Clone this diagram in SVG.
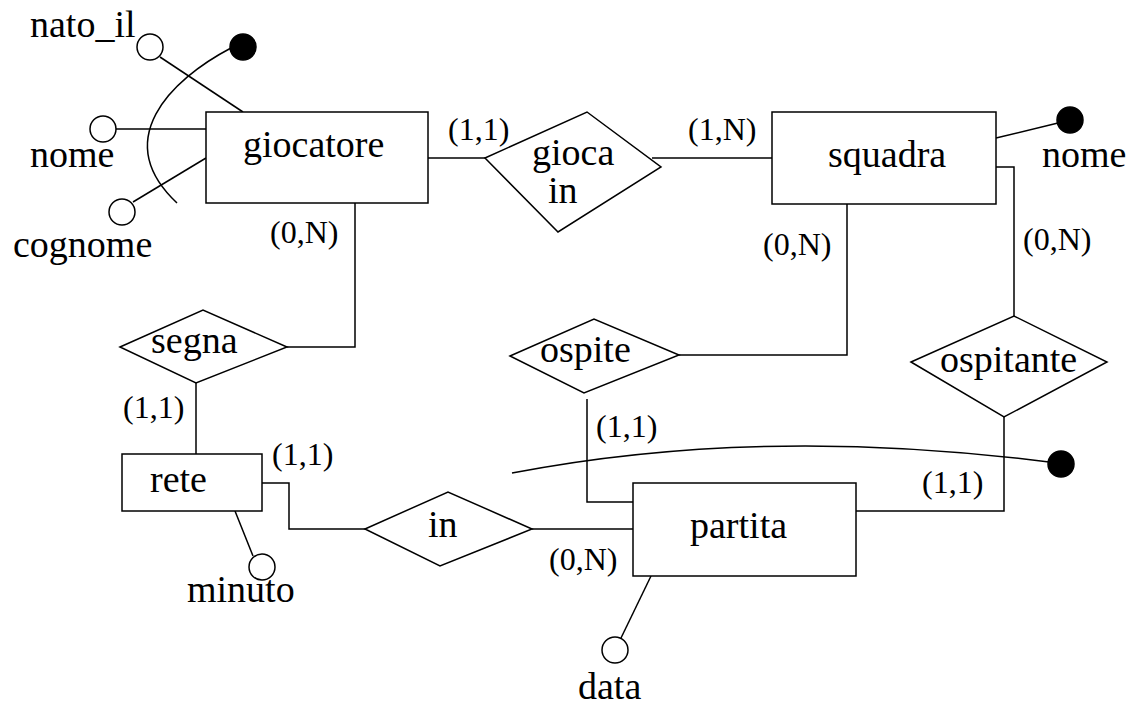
<svg xmlns="http://www.w3.org/2000/svg" width="1133" height="708" viewBox="0 0 1133 708">
  <style>
    .shape { fill: #fff; stroke: #000; stroke-width: 1.5; }
    .line { fill: none; stroke: #000; stroke-width: 1.5; }
    .attr { fill: #fff; stroke: #000; stroke-width: 1.5; }
    .key { fill: #000; stroke: #000; stroke-width: 1.5; }
    .lbl { font-family: "Liberation Serif", "Times New Roman", serif; font-size: 38px; fill: #000; }
    .card { font-family: "Liberation Serif", "Times New Roman", serif; font-size: 32px; fill: #000; }
  </style>
  <rect width="1133" height="708" fill="#fff"/>

  <!-- connectors -->
  <g id="connectors">
    <!-- giocatore - gioca in - squadra -->
    <line class="line" x1="428" y1="158" x2="485" y2="158"/>
    <line class="line" x1="652" y1="158" x2="772" y2="158"/>
    <!-- giocatore - segna -->
    <polyline class="line" points="355,203 355,347 287,347"/>
    <!-- segna - rete -->
    <line class="line" x1="196" y1="383" x2="196" y2="454"/>
    <!-- rete - in - partita -->
    <polyline class="line" points="262,483 289,483 289,529 365,529"/>
    <line class="line" x1="532" y1="529" x2="633" y2="529"/>
    <!-- squadra - ospite - partita -->
    <polyline class="line" points="847,204 847,355 679,355"/>
    <polyline class="line" points="587,399 587,502 633,502"/>
    <!-- squadra - ospitante - partita -->
    <polyline class="line" points="996,167 1014,167 1014,317"/>
    <polyline class="line" points="1004,417 1004,511 856,511"/>
    <!-- attribute links -->
    <line class="line" x1="160" y1="57" x2="243" y2="112"/>
    <line class="line" x1="113" y1="129" x2="206" y2="129"/>
    <line class="line" x1="133" y1="202" x2="206" y2="158"/>
    <line class="line" x1="996" y1="138" x2="1058" y2="123"/>
    <line class="line" x1="235" y1="511" x2="253" y2="556"/>
    <line class="line" x1="651" y1="576" x2="621" y2="638"/>
    <!-- composite identifiers -->
    <path class="line" d="M231,48 C170,80 110,140 177,203"/>
    <path class="line" d="M512,473 Q760,425 1049,462"/>
  </g>

  <!-- entities -->
  <g id="giocatore">
    <rect class="shape" x="206" y="112" width="222" height="91"/>
    <text class="lbl" x="243" y="157">giocatore</text>
  </g>
  <g id="squadra">
    <rect class="shape" x="772" y="112" width="224" height="92"/>
    <text class="lbl" x="828" y="167">squadra</text>
  </g>
  <g id="rete">
    <rect class="shape" x="122" y="454" width="140" height="57"/>
    <text class="lbl" x="150" y="492">rete</text>
  </g>
  <g id="partita">
    <rect class="shape" x="633" y="483" width="223" height="93"/>
    <text class="lbl" x="690" y="538">partita</text>
  </g>

  <!-- relationships -->
  <g id="gioca_in">
    <polygon class="shape" points="485,158 587,112 661,167 558,232"/>
    <text class="lbl" x="532" y="165">gioca</text>
    <text class="lbl" x="548" y="203">in</text>
  </g>
  <g id="segna">
    <polygon class="shape" points="120,347 203,310 287,347 196,383"/>
    <text class="lbl" x="151" y="353">segna</text>
  </g>
  <g id="in">
    <polygon class="shape" points="365,529 448,492 532,529 440,566"/>
    <text class="lbl" x="428" y="537">in</text>
  </g>
  <g id="ospite">
    <polygon class="shape" points="510,356 594,319 679,355 584,393"/>
    <text class="lbl" x="540" y="362">ospite</text>
  </g>
  <g id="ospitante">
    <polygon class="shape" points="911,362 1014,316 1107,362 1004,417"/>
    <text class="lbl" x="940" y="372">ospitante</text>
  </g>

  <!-- attributes -->
  <g id="attr_nato_il">
    <circle class="attr" cx="150" cy="47" r="13"/>
    <text class="lbl" x="30" y="37">nato_il</text>
  </g>
  <g id="attr_nome_giocatore">
    <circle class="attr" cx="103" cy="129" r="13"/>
    <text class="lbl" x="30" y="167">nome</text>
  </g>
  <g id="attr_cognome">
    <circle class="attr" cx="122" cy="212" r="13"/>
    <text class="lbl" x="13" y="257">cognome</text>
  </g>
  <g id="id_giocatore">
    <circle class="key" cx="243" cy="47" r="13"/>
  </g>
  <g id="id_squadra">
    <circle class="key" cx="1070" cy="120" r="13"/>
    <text class="lbl" x="1042" y="167">nome</text>
  </g>
  <g id="attr_minuto">
    <circle class="attr" cx="262" cy="567" r="13"/>
    <text class="lbl" x="187" y="602">minuto</text>
  </g>
  <g id="attr_data">
    <circle class="attr" cx="615" cy="650" r="13"/>
    <text class="lbl" x="578" y="699">data</text>
  </g>
  <g id="id_partita">
    <circle class="key" cx="1061" cy="464" r="13"/>
  </g>

  <!-- cardinalities -->
  <g id="cardinalities">
    <text class="card" x="448" y="140">(1,1)</text>
    <text class="card" x="688" y="140">(1,N)</text>
    <text class="card" x="270" y="243">(0,N)</text>
    <text class="card" x="763" y="255">(0,N)</text>
    <text class="card" x="1023" y="250">(0,N)</text>
    <text class="card" x="123" y="418">(1,1)</text>
    <text class="card" x="272" y="465">(1,1)</text>
    <text class="card" x="596" y="437">(1,1)</text>
    <text class="card" x="922" y="493">(1,1)</text>
    <text class="card" x="549" y="570">(0,N)</text>
  </g>
</svg>
